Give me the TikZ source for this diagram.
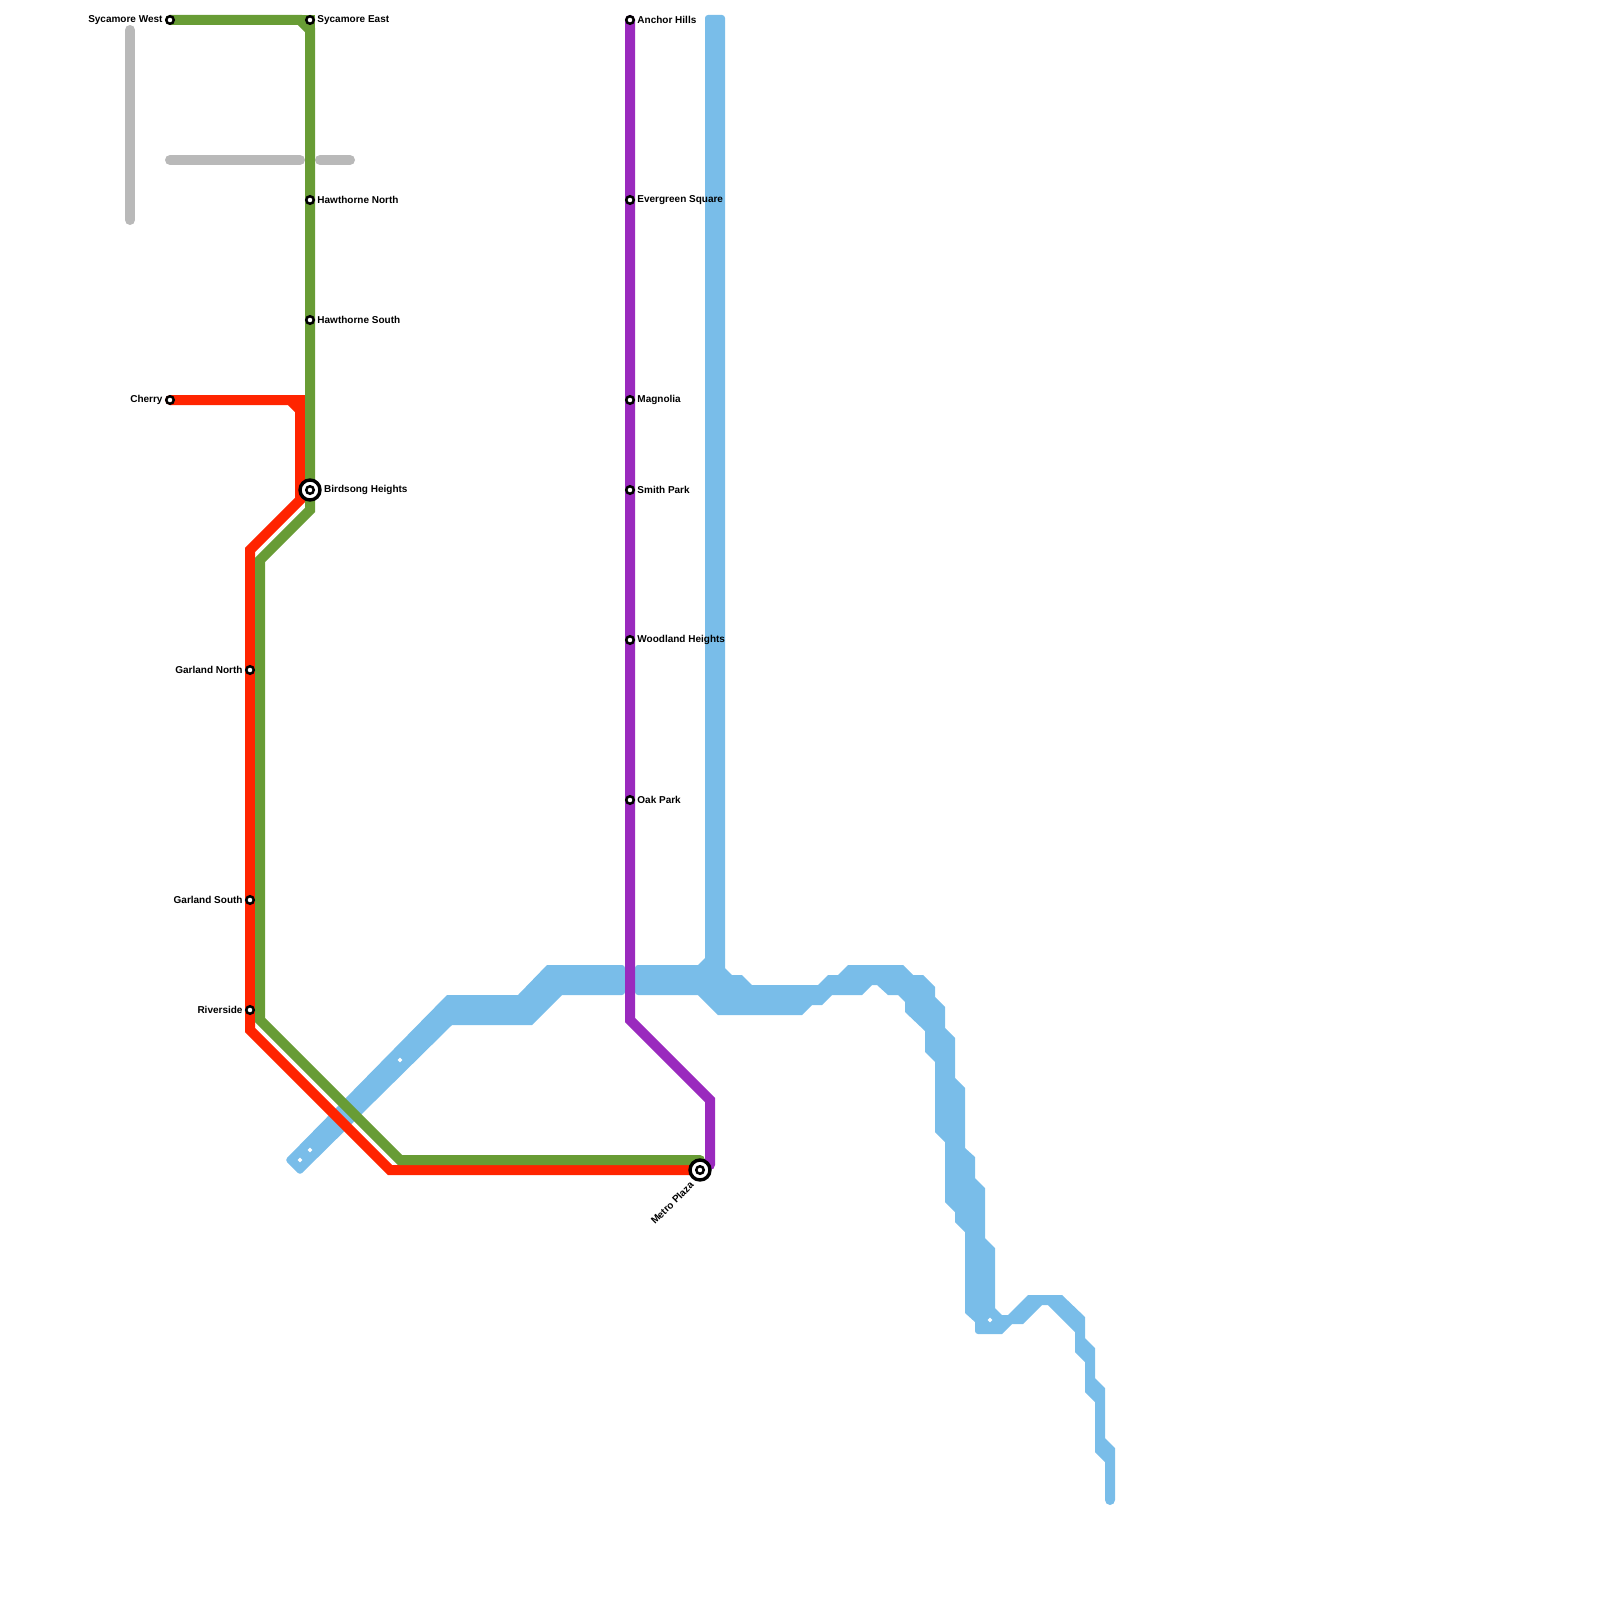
\documentclass[tikz,border=0pt]{standalone}
\usepackage{fontspec}
\setmainfont{Liberation Sans}
\usetikzlibrary{positioning, backgrounds}
\definecolor{green1}{HTML}{689C35}
\definecolor{red1}{HTML}{FF2400}
\definecolor{violet1}{HTML}{9A2ABE}
\definecolor{blue1}{HTML}{79BDE9}
\definecolor{gray1}{HTML}{B9B9B9}
\tikzset{
  stop/.style={circle, draw=black, fill=white, line width=2.5pt, inner sep=0pt, outer sep=0pt, minimum size=7.5pt},
  ring/.style={circle, draw=black, fill=white, line width=3.4pt, inner sep=0pt, outer sep=0pt, minimum size=20pt},
  stoplabel/.style={font=\bfseries\fontsize{10}{12}\selectfont, inner sep=0pt},
  route/.style={line width=10pt, line cap=round, miter limit=10},
  dot/.style={diamond, fill=white, inner sep=0pt, minimum size=5pt}
}
\usetikzlibrary{shapes.geometric}
\begin{document}
\begin{tikzpicture}[x=1pt, y=-1pt]
  \useasboundingbox (0,0) rectangle (1600,1600);

  % rings first, stops on top
  \node[ring] (birdsongRing) at (310,490) {};
  \node[ring] (metroRing) at (700,1170) {};

  \node[stop] (sycamoreW) at (170,20) {};
  \node[stop] (sycamoreE) at (310,20) {};
  \node[stop] (hawthorneN) at (310,200) {};
  \node[stop] (hawthorneS) at (310,320) {};
  \node[stop] (cherry) at (170,400) {};
  \node[stop] (birdsong) at (310,490) {};
  \node[stop] (garlandN) at (250,670) {};
  \node[stop] (garlandS) at (250,900) {};
  \node[stop] (riverside) at (250,1010) {};
  \node[stop] (anchor) at (630,20) {};
  \node[stop] (evergreen) at (630,200) {};
  \node[stop] (magnolia) at (630,400) {};
  \node[stop] (smith) at (630,490) {};
  \node[stop] (woodland) at (630,640) {};
  \node[stop] (oak) at (630,800) {};
  \node[stop] (metro) at (700,1170) {};

  \node[stoplabel, left=3.5pt of sycamoreW] (sycamoreWlabel) {Sycamore West};
  \node[stoplabel, right=3.5pt of sycamoreE] (sycamoreElabel) {Sycamore East};
  \node[stoplabel, right=3.5pt of hawthorneN] (hawthorneNlabel) {Hawthorne North};
  \node[stoplabel, right=3.5pt of hawthorneS] (hawthorneSlabel) {Hawthorne South};
  \node[stoplabel, left=3.5pt of cherry] (cherrylabel) {Cherry};
  \node[stoplabel, right=4pt of birdsongRing] (birdsonglabel) {Birdsong Heights};
  \node[stoplabel, left=3.5pt of garlandN] (garlandNlabel) {Garland North};
  \node[stoplabel, left=3.5pt of garlandS] (garlandSlabel) {Garland South};
  \node[stoplabel, left=3.5pt of riverside] (riversidelabel) {Riverside};
  \node[stoplabel, right=3.5pt of anchor] (anchorlabel) {Anchor Hills};
  \node[stoplabel, right=3.5pt of evergreen] (evergreenlabel) {Evergreen Square};
  \node[stoplabel, right=3.5pt of magnolia] (magnolialabel) {Magnolia};
  \node[stoplabel, right=3.5pt of smith] (smithlabel) {Smith Park};
  \node[stoplabel, right=3.5pt of woodland] (woodlandlabel) {Woodland Heights};
  \node[stoplabel, right=3.5pt of oak] (oaklabel) {Oak Park};
  \node[stoplabel, rotate=45, anchor=east] (metrolabel) at (692,1183) {Metro Plaza};

  \begin{scope}[on background layer]
    % blue band, left piece
    \fill[blue1] [rounded corners=3pt] (285,1160) -- (300,1175) [sharp corners] -- (452,1025) -- (532,1025) -- (562,995)
      [rounded corners=3pt] -- (625,995) -- (625,965) [sharp corners] -- (547,965) -- (518,995) -- (447,995) [rounded corners=3pt] -- cycle;
    % blue band, right piece
    \fill[blue1] [rounded corners=3pt] (635,995) -- (635,965) [sharp corners] -- (698,965) -- (705,958)
      [rounded corners=3pt] -- (705,15) -- (725,15) [sharp corners] -- (725,968) -- (732,975) -- (742,975) -- (752,985)
      -- (818,985) -- (828,975) -- (838,975) -- (848,965) -- (903,965) -- (913,975) -- (923,975) -- (935,987)
      -- (935,997) -- (945,1007) -- (945,1028) -- (955,1038) -- (955,1078) -- (965,1088) -- (965,1148) -- (975,1157)
      -- (975,1178) -- (985,1188) -- (985,1238) -- (995,1248) -- (995,1308) -- (1002,1315) -- (1008,1315)
      -- (1028,1295) -- (1062,1295) -- (1085,1317) -- (1085,1338) -- (1095,1348) -- (1095,1378) -- (1105,1388)
      -- (1105,1438) -- (1115,1448) -- (1115,1500) arc[start angle=0, end angle=180, radius=5pt, y radius=-5pt]
      -- (1105,1462) -- (1095,1452) -- (1095,1402) -- (1085,1392) -- (1085,1362) -- (1075,1352) -- (1075,1332)
      -- (1048,1305) -- (1042,1305) -- (1023,1324) -- (1012,1324) -- (1002,1334) [rounded corners=3pt] -- (975,1334) [sharp corners]
      -- (975,1322) -- (965,1313) -- (965,1232) -- (955,1222) -- (955,1212) -- (945,1202) -- (945,1142) -- (935,1132)
      -- (935,1062) -- (925,1052) -- (925,1031) -- (905,1012) -- (905,1002) -- (898,995) -- (888,995) -- (877,985)
      -- (872,985) -- (862,995) -- (832,995) -- (822,1005) -- (812,1005) -- (802,1015) -- (718,1015) -- (698,995)
      [rounded corners=3pt] -- cycle;

    % grey stubs
    \draw[route, gray1] (130,30) -- (130,220);
    \draw[route, gray1] (170,160) -- (300,160);
    \draw[route, gray1] (320,160) -- (350,160);

    \draw[route, red1] (cherry.center) -- (290,400) -- (300,410) -- (300,500) -- (250,550) -- (garlandN.center)
      -- (garlandS.center) -- (riverside.center) -- (250,1030) -- (390,1170) -- (metro.center);
    \draw[route, red1, line cap=butt] (290,400) -- (300,400) -- (300,410);

    \draw[route, green1] (sycamoreW.center) -- (300,20) -- (310,30) -- (hawthorneN.center) -- (hawthorneS.center)
      -- (birdsong.center) -- (310,510) -- (260,560) -- (260,1020) -- (400,1160) -- (metroRing.north);
    \draw[route, green1, line cap=butt] (300,20) -- (sycamoreE.center) -- (310,30);

    \draw[route, violet1] (anchor.center) -- (evergreen.center) -- (magnolia.center) -- (smith.center)
      -- (woodland.center) -- (oak.center) -- (630,1020) -- (710,1100) -- (710,1165);
  \end{scope}

  \node[dot] (dotA) at (300,1160) {};
  \node[dot] (dotB) at (310,1150) {};
  \node[dot] (dotC) at (400,1060) {};
  \node[dot] (dotD) at (990,1320) {};
\end{tikzpicture}
\end{document}
